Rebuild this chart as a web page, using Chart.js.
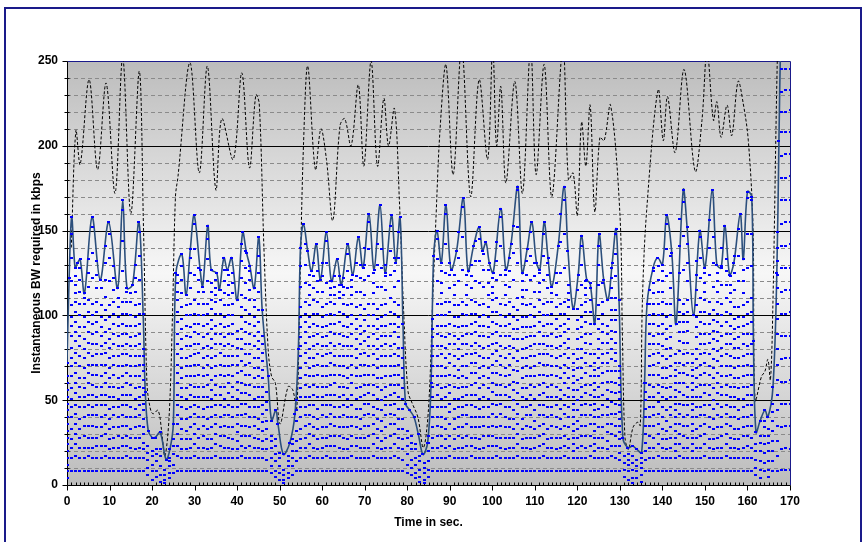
<!DOCTYPE html>
<html>
<head>
<meta charset="utf-8">
<script src="https://cdn.jsdelivr.net/npm/chart.js@4.4.1/dist/chart.umd.min.js"></script>
<style>
  html, body { margin: 0; padding: 0; background: #fff; }
</style>
</head>
<body>
<canvas id="bw" width="864" height="542"></canvas>
<script>
// axis labels
const xTickLabels = [0, 10, 20, 30, 40, 50, 60, 70, 80, 90, 100, 110, 120, 130, 140, 150, 160, 170];
const yTickLabels = [0, 50, 100, 150, 200, 250];

// total required BW (solid line), vertices
const totalTime = [0, 0.5, 1.1, 1.9, 2.5, 3.1, 4.1, 5.9, 7.8, 9.8, 11.9, 13.1, 14.1, 15.4, 16.9, 17.9, 18.4, 19.1, 20.0, 20.7,
  21.9, 23.3, 24.2, 25.0, 25.6, 27.0, 28.0, 29.0, 29.9, 31.3, 31.9, 33.1, 33.9, 35.2, 35.8, 36.9, 37.7, 38.7, 40.0, 41.3,
  42.2, 43.0, 44.0, 45.1, 45.9, 47.3, 48.1, 49.1, 49.6, 50.9, 52.4, 53.6, 54.4, 54.9, 55.6, 56.6, 57.5, 58.6, 59.6, 61.0,
  62.2, 63.5, 64.5, 66.0, 67.2, 68.5, 69.6, 71.0, 72.2, 73.6, 74.8, 76.3, 77.3, 78.3, 79.0, 79.6, 80.6, 81.6, 82.6, 83.7,
  84.8, 85.6, 86.2, 87.0, 88.0, 89.1, 90.3, 91.6, 93.2, 94.3, 95.6, 96.9, 97.7, 98.5, 99.3, 100.2, 102.0, 103.2, 104.4, 106.0,
  107.0, 108.2, 109.3, 110.4, 111.2, 112.2, 113.1, 114.0, 115.5, 116.9, 117.8, 119.0, 120.2, 121.0, 122.2, 123.0, 124.1, 125.1, 126.2, 127.2,
  128.2, 129.1, 129.8, 130.7, 131.9, 133.0, 134.0, 135.1, 135.8, 136.4, 137.8, 138.9, 140.0, 141.0, 142.2, 143.2, 144.9, 145.8, 147.3, 148.8,
  150.0, 151.7, 152.8, 153.8, 154.7, 155.8, 156.8, 158.3, 159.0, 160.0, 161.0, 161.4, 162.0, 163.0, 164.1, 164.8, 166.0, 166.9, 167.4, 167.8,
  168.5, 170.0];
const totalKbps = [72, 122, 158, 128, 131, 133, 113, 158, 121, 155, 116, 168, 116, 118, 155, 101, 55, 32, 28, 28,
  31, 15, 21, 36, 125, 136, 112, 139, 159, 127, 117, 153, 127, 125, 115, 134, 127, 134, 109, 149,
  137, 129, 116, 146, 103, 64, 38, 44, 36, 18, 25, 42, 80, 140, 154, 138, 126, 142, 121, 149,
  120, 133, 118, 142, 124, 146, 128, 160, 127, 165, 125, 159, 131, 158, 95, 48, 44, 40, 30, 18,
  25, 60, 135, 150, 131, 165, 127, 138, 169, 126, 141, 152, 138, 143, 131, 125, 163, 127, 142, 176,
  125, 139, 155, 131, 127, 155, 134, 117, 141, 176, 138, 104, 124, 147, 121, 119, 95, 148, 121, 109,
  131, 151, 109, 28, 22, 23, 21, 19, 60, 107, 128, 134, 130, 159, 137, 95, 174, 152, 100, 150,
  128, 174, 130, 128, 153, 124, 131, 160, 133, 173, 170, 85, 31, 38, 44, 40, 58, 125, 203, 262,
  320, 330];

// dashed series
const peakTime = [1.0, 2.1, 3.1, 5.2, 7.2, 9.2, 11.3, 13.1, 15.0, 17.0, 18.0, 18.8, 19.5, 20.2, 21.4, 22.2, 23.0, 24.0, 24.8, 25.5,
  26.1, 28.9, 31.1, 33.0, 35.0, 36.4, 39.1, 41.1, 42.9, 44.4, 45.2, 46.3, 47.3, 48.1, 49.0, 50.1, 52.0, 53.1, 54.0, 54.8,
  55.6, 56.6, 58.4, 59.7, 61.0, 62.5, 64.2, 65.3, 66.8, 68.5, 69.8, 71.5, 73.0, 74.5, 75.6, 77.0, 78.2, 79.2, 80.2, 81.2,
  82.5, 83.8, 85.0, 86.0, 86.8, 87.7, 89.1, 90.8, 92.8, 94.9, 96.9, 98.9, 100.1, 101.0, 102.0, 103.2, 105.3, 107.1, 109.0, 110.3,
  112.2, 114.0, 116.6, 117.9, 119.0, 120.0, 121.0, 122.0, 123.0, 124.1, 125.3, 126.3, 127.8, 130.0, 130.6, 131.2, 132.0, 133.1, 134.2, 134.8,
  135.3, 136.3, 139.0, 140.2, 141.2, 143.0, 145.1, 147.7, 149.3, 150.5, 152.0, 152.8, 153.8, 155.2, 156.3, 157.8, 159.0, 160.2, 161.3, 161.8,
  163.3, 164.1, 164.8, 165.4, 166.0, 167.1, 168.0];
const peakKbps = [140, 209, 189, 239, 186, 237, 172, 252, 160, 244, 150, 60, 46, 42, 44, 33, 17, 40, 100, 170,
  182, 249, 184, 247, 174, 216, 192, 243, 187, 230, 225, 140, 80, 64, 60, 36, 58, 56, 44, 120,
  200, 247, 186, 210, 192, 156, 212, 216, 200, 236, 188, 250, 188, 228, 200, 222, 165, 100, 55, 48,
  40, 22, 45, 110, 160, 209, 248, 183, 258, 170, 239, 192, 258, 200, 235, 178, 238, 172, 258, 183,
  248, 170, 258, 180, 184, 159, 214, 188, 224, 161, 205, 203, 224, 160, 87, 28, 21, 34, 37, 35,
  109, 162, 233, 203, 229, 196, 245, 185, 215, 256, 215, 226, 205, 224, 206, 238, 225, 203, 152, 50,
  64, 67, 74, 62, 109, 260, 320];

// per-layer BW (kbps), one value per second from 0 to 170, stacked from the bottom
const layer01 = [4,
  8,8,8,8,8,8,8,8,8,8, 8,8,8,8,8,8,8,8,
  6,3,5,2,1,4,7,
  8,8,8,8,8,8,8,8,8,8, 8,8,8,8,8,8,8,8,8,8, 8,8,
  7,5,3,1,4,6,
  8,8,8,8,8,8,8,8,8,8, 8,8,8,8,8,8,8,8,8,8, 8,8,8,8,8,8,
  7,6,4,2,1,5,
  8,8,8,8,8,8,8,8,8,8, 8,8,8,8,8,8,8,8,8,8, 8,8,8,8,8,8,8,8,8,8, 8,8,8,8,8,8,8,8,8,8, 8,8,8,8,8,
  5,3,1,4,2,
  8,8,8,8,8,8,8,8,8,8, 8,8,8,8,8,8,8,8,8,8, 8,8,8,8,8,8,
  6,4,8,5,8,
  8, 9,9,9];
const layer02 = [4,
  8,9,8,8,9,8,8,8,9,8,8,8,8,9,8,8,8, 8,
  4,5,3,4,2,3,5,
  9,8,8,8,9,8,8,8,8,9,8,8,8,8,8,9,8,8,8,8, 8,7,
  4,3,4,2,3,5, 6,
  8,8,9,8,8,8,9,8,8,8,8,8,9,8,8,8,8,9,8,8,8,8,9,8, 7,
  5,4,3,3,2,4, 8,
  8,8,8,9,8,8,8,8,9,8,8,8,8,8,9,8,8,8,8,9,8,8,8,8,8,9,8,8,8,8,9,8,8,8,8,8,9,8,8,8,8,9,8, 7,
  4,5,3,4,4, 7,
  8,8,9,8,8,8,8,9,8,8,8,8,8,9,8,8,8,8,9,8,8,8,8,8,8,
  4,5,5,4,6, 9, 12,13,12];
const layer03 = [4,
  6,7,6,6,5,6,7,7,6,5,6,6,7,6,6,5,6, 5,
  5,4,6,5,3,4,6,
  6,5,5,6,7,6,6,5,6,7,7,6,6,5,5,6,6,7,6,6, 5,6,
  5,6,4,3,4,5, 6,
  6,6,7,6,5,6,6,7,7,6,5,5,6,7,6,6,6,7,6,5,6,6,7,6, 6,
  6,5,5,4,4,5, 6,
  6,7,6,6,5,6,6,7,6,6,5,6,7,7,6,6,5,6,6,7,6,6,5,6,7,7,6,6,5,6,6,6,4,6,7,6,6,4,6,6,5,6,7, 4,
  4,4,5,3,4, 5,
  6,6,7,6,5,6,4,7,6,6,4,6,6,7,6,5,6,6,7,6,6,5,6,7,6,
  5,5,6,5,6, 9, 13,13,14];
const layer04 = [4,
  5,6,6,7,6,6,5,6,7,6,6,7,5,6,6,7,6, 4,
  4,5,4,6,3,3,5,
  7,6,6,5,6,6,7,6,5,6,6,7,6,6,5,6,7,6,6,5, 5,6,
  6,4,5,3,3,4, 6,
  5,6,6,7,6,6,5,6,6,7,7,6,6,5,6,6,7,6,6,5,6,7,6,6, 6,
  5,6,4,5,3,6, 6,
  7,6,5,6,6,7,6,6,5,6,6,7,6,6,5,6,7,6,6,6,5,6,7,6,6,6,5,6,7,6,6,5,4,6,6,7,6,4,6,6,5,7,6, 4,
  4,3,4,4,3, 5,
  7,6,6,5,6,6,4,6,7,6,4,6,7,6,5,6,6,7,6,6,5,6,7,6,6,
  5,6,5,6,6, 9, 14,13,13];
const layer05 = [4,
  6,6,5,6,7,7,6,5,6,6,6,5,7,6,5,6,7, 5,
  4,3,3,4,0,2,4,
  6,6,5,7,6,5,6,6,7,6,5,6,6,7,5,6,6,5,7,6, 6,6,
  4,5,3,0,3,4, 6,
  6,7,6,5,6,6,6,7,6,5,6,7,6,6,5,7,6,6,5,6,6,7,6,5, 6,
  5,4,5,3,3,5, 6,
  6,5,6,7,6,5,6,7,6,6,7,6,5,6,6,7,6,6,5,6,6,7,6,5,6,6,6,7,6,5,6,7,4,5,6,6,7,4,6,6,5,6,6, 4,
  0,3,4,0,3, 5,
  6,7,6,6,5,6,4,6,6,7,4,5,6,6,7,6,6,5,6,7,6,6,5,6,7,
  4,5,5,5,6, 9, 13,13,14];
const layer06 = [4,
  7,6,6,5,6,6,7,6,5,6,7,6,6,5,7,6,6, 4,
  0,0,0,0,0,0,0,
  5,6,7,6,6,7,5,6,6,5,6,6,7,6,5,6,7,6,5,6, 5,5,
  3,4,0,0,0,3, 6,
  7,6,5,6,6,7,6,6,5,6,7,6,5,6,6,6,7,5,6,6,7,6,5,6, 6,
  4,4,3,0,0,4, 6,
  5,6,6,7,6,6,7,5,6,6,6,5,6,7,6,7,6,5,6,6,6,6,7,5,6,5,7,6,6,6,7,6,4,5,6,6,5,4,6,7,5,6,7, 4,
  0,0,0,0,0, 5,
  5,6,6,7,6,7,4,6,5,6,4,7,6,5,6,6,7,6,6,5,7,6,6,5,6,
  0,4,5,4,6, 9, 13,14,13];
const layer07 = [4,
  6,5,7,6,6,5,6,7,6,6,5,6,6,7,6,5,6, 5,
  0,0,0,0,0,0,0,
  6,7,6,6,5,6,5,7,6,6,7,5,6,6,5,7,6,6,6,7, 5,6,
  0,0,0,0,0,0, 6,
  6,5,6,7,6,6,7,5,6,6,6,6,7,5,6,7,6,5,6,6,6,5,7,6, 6,
  0,0,0,0,0,0, 6,
  6,6,7,5,6,6,5,6,7,6,5,6,6,6,7,6,6,7,5,6,7,5,6,6,6,6,6,5,7,6,5,6,4,6,6,7,6,4,5,6,5,7,6, 4,
  0,0,0,0,0, 5,
  6,5,7,6,6,5,4,6,7,6,4,6,5,6,7,6,7,6,5,6,6,5,6,7,6,
  0,0,4,4,5, 9, 14,13,13];
const layer08 = [4,
  5,7,6,6,6,7,5,6,6,7,6,5,6,6,7,6,5, 5,
  0,0,0,0,0,0,0,
  6,6,6,7,5,6,7,6,5,6,6,5,7,6,5,6,6,7,5,6, 5,5,
  0,0,0,0,0,0, 6,
  6,6,5,6,7,5,6,6,7,6,6,5,6,6,7,5,6,7,6,6,5,6,6,7, 6,
  0,0,0,0,0,0, 6,
  7,5,6,6,6,5,6,6,6,7,6,6,5,7,6,5,7,6,6,6,6,5,6,7,6,7,6,6,5,6,6,6,4,6,5,6,6,4,7,6,5,6,6, 4,
  0,0,0,0,0, 5,
  6,6,5,6,7,6,4,7,6,5,4,6,6,7,6,5,6,7,6,6,6,7,5,6,6,
  0,0,0,0,5, 9, 13,13,14];
const layer09 = [4,
  6,6,6,5,7,6,6,5,7,6,6,6,5,7,6,6,6, 4,
  0,0,0,0,0,0,0,
  7,5,6,6,6,6,6,7,5,6,5,7,6,6,5,6,5,6,7,6, 5,6,
  0,0,0,0,0,0, 0,
  5,7,6,6,6,6,5,6,7,6,5,6,7,6,6,6,5,6,7,6,6,6,5,7, 6,
  0,0,0,0,0,0, 6,
  6,6,6,5,7,6,6,5,6,7,6,7,6,5,6,6,5,7,6,6,5,6,6,7,6,6,6,7,6,5,7,5,4,6,6,5,6,4,6,7,5,6,6, 4,
  0,0,0,0,0, 5,
  7,6,5,6,6,6,4,5,7,6,4,6,7,5,6,7,6,5,6,6,6,6,7,5,6,
  0,0,0,0,0, 9, 13,14,13];
const layer10 = [4,
  7,6,5,6,6,6,7,6,6,5,7,6,6,6,5,7,6, 5,
  0,0,0,0,0,0,0,
  6,6,7,5,6,7,6,6,6,5,7,6,5,6,5,7,6,6,5,6, 6,0,
  0,0,0,0,0,0, 0,
  6,6,6,5,7,6,6,6,5,7,6,6,5,7,6,6,6,6,5,7,6,5,6,6, 6,
  0,0,0,0,0,0, 6,
  5,7,6,6,6,6,6,5,7,6,6,5,6,6,7,6,6,6,5,7,6,7,5,6,6,5,6,6,6,7,6,6,4,6,5,7,5,4,6,6,5,6,7, 4,
  0,0,0,0,0, 5,
  6,7,6,5,6,6,4,6,6,7,4,5,6,7,6,6,6,6,5,7,5,6,6,7,6,
  0,0,0,0,0, 9, 14,13,13];
const layer11 = [4,
  6,6,7,6,5,6,6,7,5,6,6,7,6,5,6,6,7, 4,
  0,0,0,0,0,0,0,
  5,6,6,6,7,6,5,6,7,6,6,6,5,7,5,6,6,7,6,5, 5,0,
  0,0,0,0,0,0, 0,
  6,7,5,6,6,6,6,7,6,5,6,6,6,5,7,6,5,6,6,7,6,6,5,6, 6,
  0,0,0,0,0,0, 6,
  6,6,5,7,6,5,6,7,6,6,6,6,6,5,7,6,5,6,7,6,6,6,5,6,7,6,7,5,6,6,5,6,4,7,6,6,6,4,5,6,5,7,6, 4,
  0,0,0,0,0, 5,
  5,6,7,6,6,6,4,6,5,7,4,6,6,6,5,6,7,6,6,5,6,7,6,6,5,
  0,0,0,0,0, 9, 13,13,14];
const layer12 = [4,
  5,6,6,6,7,5,6,6,7,6,5,6,7,6,6,6,5, 5,
  0,0,0,0,0,0,0,
  6,6,5,6,6,7,6,5,6,6,7,6,6,5,5,7,6,5,6,6, 5,0,
  0,0,0,0,0,0, 0,
  7,6,6,5,6,6,7,6,5,6,6,7,5,6,6,7,6,6,5,6,6,6,7,5, 6,
  0,0,0,0,0,0, 6,
  6,7,6,5,6,6,6,7,5,6,7,5,6,6,6,5,6,6,7,6,6,5,7,6,5,6,6,6,5,7,6,6,4,5,6,6,7,4,6,5,6,6,5, 4,
  0,0,0,0,0, 0,
  6,6,6,7,5,6,4,7,6,6,4,5,6,6,7,5,6,6,7,6,6,5,6,6,7,
  0,0,0,0,0, 9, 13,14,13];
const layer13 = [4,
  6,7,6,5,6,7,6,5,6,6,7,6,5,6,6,6,7, 5,
  0,0,0,0,0,0,0,
  6,5,7,6,6,5,6,6,6,7,5,6,7,6,5,6,6,6,7,5, 5,0,
  0,0,0,0,0,0, 0,
  6,6,5,7,6,6,5,6,6,7,6,6,6,5,6,7,6,5,6,6,7,6,6,5, 6,
  0,0,0,0,0,0, 6,
  6,5,6,6,7,6,7,6,5,6,6,6,7,6,5,6,6,5,6,7,5,6,6,7,6,6,5,6,6,6,7,6,4,6,5,6,6,4,5,7,5,6,6, 4,
  0,0,0,0,0, 0,
  7,6,5,6,6,5,4,6,7,6,4,6,6,5,7,6,6,5,6,7,6,6,7,5,6,
  0,0,0,0,0, 9, 14,13,13];
const layer14 = [4,
  7,5,6,6,6,6,7,6,6,5,6,6,7,6,5,6,6, 4,
  0,0,0,0,0,0,0,
  6,6,6,5,7,6,6,7,5,6,6,5,6,7,5,6,7,6,6,5, 5,0,
  0,0,0,0,0,0, 0,
  5,6,7,6,6,5,6,6,7,6,6,5,7,6,6,6,5,7,6,6,5,6,7,6, 0,
  0,0,0,0,0,0, 5,
  7,6,6,6,5,6,5,6,7,6,6,7,5,6,6,6,7,6,5,6,6,6,6,5,7,5,6,7,6,6,6,5,4,6,7,5,6,4,6,6,6,5,6, 4,
  0,0,0,0,0, 0,
  6,5,6,7,6,6,4,5,6,7,4,7,6,6,5,6,5,7,6,6,5,6,6,7,6,
  0,0,0,0,0, 8, 13,13,14];
const layer15 = [4,
  6,6,5,7,6,6,6,5,7,6,6,6,6,5,7,6,6, 5,
  0,0,0,0,0,0,0,
  7,6,6,6,5,6,7,6,6,5,6,6,5,6,5,7,6,6,6,5, 5,0,
  0,0,0,0,0,0, 0,
  6,6,6,7,5,6,6,5,6,7,6,6,6,6,5,6,7,5,6,6,6,7,5,6, 0,
  0,0,0,0,0,0, 5,
  5,6,7,6,6,7,6,5,6,6,6,6,6,7,5,6,6,7,6,5,7,6,5,6,6,6,7,6,5,6,5,6,4,6,6,7,6,4,6,5,6,6,7, 4,
  0,0,0,0,0, 0,
  6,7,5,6,6,7,4,6,6,5,4,6,7,6,6,5,6,6,7,5,6,6,5,6,7,
  0,0,0,0,0, 8, 13,14,13];
const layer16 = [4,
  5,6,7,6,6,5,6,6,6,7,6,5,6,7,6,5,6, 4,
  0,0,0,0,0,0,0,
  6,6,6,7,6,5,6,6,5,7,6,6,6,5,5,6,7,6,5,6, 5,0,
  0,0,0,0,0,0, 0,
  6,5,6,6,7,6,6,6,5,6,7,6,5,6,6,7,6,6,6,5,6,7,6,6, 0,
  0,0,0,0,0,0, 6,
  6,6,6,7,5,6,7,6,6,5,5,6,6,6,7,6,5,6,7,6,6,6,7,5,6,6,5,6,6,7,6,6,4,5,6,6,7,4,6,6,5,6,6, 3,
  0,0,0,0,0, 0,
  5,6,6,6,7,6,4,6,5,6,4,6,6,7,6,6,5,6,6,7,6,6,5,6,6,
  0,0,0,0,0, 8, 14,13,13];
const layer17 = [0,
  7,6,7,8,7,7,6,7,8,7,7,6,7,7,8,7,6, 0,
  0,0,0,0,0,0,0,
  7,7,6,7,8,7,7,6,7,7,8,7,6,7,5,7,7,8,6,7, 0,0,
  0,0,0,0,0,0, 0,
  6,7,7,8,7,6,7,7,7,8,6,7,7,7,6,8,7,7,6,7,7,8,7,7, 0,
  0,0,0,0,0,0, 0,
  7,7,8,6,7,7,7,6,8,7,7,7,6,7,8,7,7,7,6,7,8,7,7,6,7,7,8,7,7,6,7,7,5,7,7,6,7,5,8,7,5,7,7, 0,
  0,0,0,0,0, 0,
  7,6,7,7,8,7,5,7,6,7,5,7,8,7,7,6,7,7,8,7,7,6,7,7,8,
  0,0,0,0,0, 9, 12,12,13];
// upper layers, only present when the total rises above the common level
const layer18 = [0,
  14,5,7,3,8,15,8,10,10,14,7,5,18,6,5,8,14, 0,
  0,0,0,0,0,0,0,
  5,8,0,9,15,7,7,13,5,4,6,7,6,6,0,10,9,6,4,11, 0,0,
  0,0,0,0,0,0, 0,
  12,11,6,7,6,9,12,4,5,4,5,10,5,9,8,9,16,6,13,11,8,14,9,14, 0,
  0,0,0,0,0,0, 0,
  13,6,17,8,6,14,19,6,7,12,13,10,7,4,11,17,6,9,16,21,4,9,14,9,5,14,8,5,7,18,20,4,0,11,12,4,7,0,12,11,0,6,13, 0,
  0,0,0,0,0, 0,
  8,6,7,6,16,9,0,16,20,11,0,9,12,5,16,14,6,11,8,5,10,15,7,20,19,
  0,0,0,0,0, 0, 12,13,12];
const layer19 = [0,
  14,5,7,0,8,15,8,0,10,14,7,0,18,0,0,8,14, 0,
  0,0,0,0,0,0,0,
  5,8,0,9,15,7,0,13,5,4,0,7,6,6,0,10,9,6,0,11, 0,0,
  0,0,0,0,0,0, 0,
  12,11,6,7,6,9,12,4,5,4,5,10,5,9,8,9,16,6,13,11,8,14,9,14, 0,
  0,0,0,0,0,0, 0,
  13,6,17,8,6,14,19,6,7,12,13,10,7,4,11,17,6,9,16,21,4,9,14,9,5,14,8,0,7,18,20,4,0,0,12,4,0,0,12,0,0,6,13, 0,
  0,0,0,0,0, 0,
  0,6,7,6,16,9,0,16,20,11,0,9,12,5,16,14,6,11,8,5,10,15,7,20,19,
  0,0,0,0,0, 0, 13,12,12];
const layer20 = [0,
  14,5,7,0,8,15,8,0,10,14,7,0,18,0,0,8,14, 0,
  0,0,0,0,0,0,0,
  5,8,0,9,15,7,0,12,5,5,0,7,6,6,0,10,10,5,0,10, 0,0,
  0,0,0,0,0,0, 0,
  11,12,6,8,6,8,13,4,6,5,5,10,4,8,8,10,16,6,12,11,7,15,8,15, 0,
  0,0,0,0,0,0, 0,
  12,7,18,7,6,15,18,6,7,12,13,9,8,5,11,17,6,8,16,22,5,8,14,8,6,13,7,0,6,17,20,5,0,0,11,4,0,0,11,0,0,6,12, 0,
  0,0,0,0,0, 0,
  0,7,8,6,15,10,0,16,20,11,0,8,12,6,16,15,5,11,7,5,10,16,7,21,20,
  0,0,0,0,0, 0, 12,12,13];

const layers = [layer01, layer02, layer03, layer04, layer05, layer06, layer07, layer08, layer09, layer10,
  layer11, layer12, layer13, layer14, layer15, layer16, layer17, layer18, layer19, layer20];
layers.forEach((l, i) => {
  if (l.length !== 171) throw new Error('layer ' + (i + 1) + ' has ' + l.length + ' values');
});

Chart.defaults.font.family = "'Liberation Sans', Arial, sans-serif";
Chart.defaults.color = '#000';

// small blue dash used as the marker
const dash = document.createElement('canvas');
dash.width = 3; dash.height = 2;
const dctx = dash.getContext('2d');
dctx.fillStyle = '#0000ff';
dctx.fillRect(0, 0, 3, 2);

const plotFrame = {
  id: 'plotFrame',
  beforeDatasetsDraw(chart) {
    const { ctx, chartArea: a, scales: { x, y } } = chart;
    ctx.save();
    // outer chart border
    ctx.strokeStyle = '#1a1a8a';
    ctx.lineWidth = 2;
    ctx.strokeRect(5, 8, 856, 560);

    const g = ctx.createLinearGradient(0, a.top, 0, a.bottom);
    g.addColorStop(0, '#bcbcbc');
    g.addColorStop(0.5, '#f7f7f7');
    g.addColorStop(1, '#bcbcbc');
    ctx.fillStyle = g;
    ctx.fillRect(a.left, a.top, a.right - a.left, a.bottom - a.top);

    ctx.lineWidth = 1;
    for (let v = 10; v < 250; v += 10) {
      const py = Math.round(y.getPixelForValue(v)) + 0.5;
      ctx.beginPath();
      if (v % 50 === 0) {
        ctx.setLineDash([]);
        ctx.strokeStyle = '#000';
      } else {
        ctx.setLineDash([4, 3]);
        ctx.strokeStyle = '#8a8a8a';
      }
      ctx.moveTo(a.left, py);
      ctx.lineTo(a.right, py);
      ctx.stroke();
    }
    ctx.setLineDash([]);

    // frame: navy top/right, black axes
    const L = Math.round(a.left) + 0.5, R = Math.round(a.right) + 0.5;
    const T = Math.round(a.top) + 0.5, B = Math.round(a.bottom) + 0.5;
    ctx.strokeStyle = '#1a1a8a';
    ctx.beginPath();
    ctx.moveTo(L, T); ctx.lineTo(R, T); ctx.lineTo(R, B);
    ctx.stroke();
    ctx.strokeStyle = '#000';
    ctx.beginPath();
    ctx.moveTo(L, T); ctx.lineTo(L, B); ctx.lineTo(R, B);
    ctx.stroke();

    // ticks
    ctx.beginPath();
    for (let v = 0; v <= 250; v += 10) {
      const py = Math.round(y.getPixelForValue(v)) + 0.5;
      if (v % 50 === 0) { ctx.moveTo(L - 5, py); ctx.lineTo(L, py); }
      else { ctx.moveTo(L - 3, py); ctx.lineTo(L + 2, py); }
    }
    for (let t = 0; t <= 170; t += 1) {
      const px = Math.round(x.getPixelForValue(t)) + 0.5;
      if (t % 10 === 0) { ctx.moveTo(px, B); ctx.lineTo(px, B + 5); }
      else { ctx.moveTo(px, B - 3); ctx.lineTo(px, B); }
    }
    ctx.stroke();
    ctx.restore();
  }
};

const layerSets = layers.map((vals, k) => ({
  label: 'layer ' + (k + 1),
  data: vals.map((v, i) => ({ x: i, y: v })),
  stack: 'layers',
  showLine: false,
  pointStyle: dash,
  pointRadius: 2,
  order: 0
}));

new Chart(document.getElementById('bw'), {
  type: 'line',
  data: {
    datasets: [
      ...layerSets,
      {
        label: 'total',
        data: totalTime.map((t, i) => ({ x: t, y: totalKbps[i] })),
        stack: 'total',
        borderColor: '#2c4f7c',
        borderWidth: 1.6,
        pointStyle: dash,
        pointRadius: 2,
        tension: 0.35,
        order: 1
      },
      {
        label: 'peak',
        data: peakTime.map((t, i) => ({ x: t, y: peakKbps[i] })),
        stack: 'peak',
        borderColor: '#000',
        borderWidth: 1,
        borderDash: [3, 2],
        pointRadius: 0,
        tension: 0.35,
        order: 2
      }
    ]
  },
  options: {
    responsive: false,
    devicePixelRatio: 1,
    animation: false,
    events: [],
    layout: { padding: { left: 0, right: 74, top: 61, bottom: 0 } },
    plugins: {
      legend: { display: false },
      tooltip: { enabled: false }
    },
    scales: {
      x: {
        type: 'linear',
        min: 0,
        max: 170,
        afterFit: (s) => { s.height = 57; },
        grid: { drawOnChartArea: false, drawTicks: true, tickLength: 5, color: 'rgba(0,0,0,0)', tickColor: 'rgba(0,0,0,0)' },
        border: { display: false },
        ticks: {
          stepSize: 10,
          padding: 4,
          maxRotation: 0,
          autoSkip: false,
          font: { size: 12, weight: 'bold' },
          callback: (v) => xTickLabels.includes(v) ? String(v) : ''
        },
        title: {
          display: true,
          text: 'Time in sec.',
          font: { size: 12, weight: 'bold' },
          padding: { top: 0, bottom: 12 }
        }
      },
      y: {
        stacked: true,
        min: 0,
        max: 250,
        afterFit: (s) => { s.width = 67; },
        grid: { drawOnChartArea: false, drawTicks: true, tickLength: 5, color: 'rgba(0,0,0,0)', tickColor: 'rgba(0,0,0,0)' },
        border: { display: false },
        ticks: {
          stepSize: 10,
          padding: 4,
          autoSkip: false,
          font: { size: 12, weight: 'bold' },
          callback: (v) => yTickLabels.includes(v) ? String(v) : ''
        },
        title: {
          display: true,
          text: 'Instantaneous BW required in kbps',
          font: { size: 12, weight: 'bold' },
          padding: { top: 29, bottom: 0 }
        }
      }
    }
  },
  plugins: [plotFrame]
});
</script>
</body>
</html>
